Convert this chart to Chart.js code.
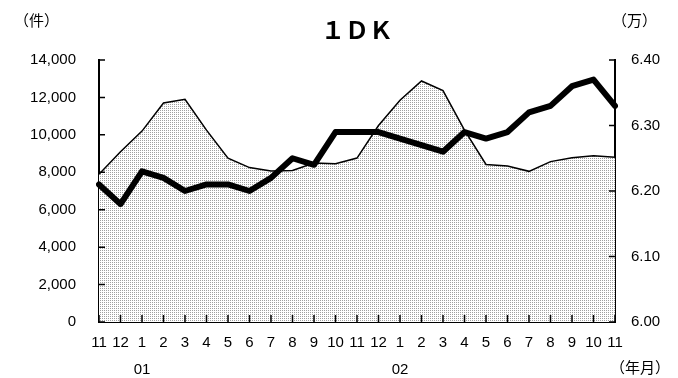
<!DOCTYPE html>
<html>
<head>
<meta charset="utf-8">
<script src="https://cdn.jsdelivr.net/npm/chart.js@4.4.1/dist/chart.umd.min.js"></script>
<style>
  html, body { margin: 0; padding: 0; background: #fff; }
  #wrap { width: 678px; height: 378px; }
</style>
</head>
<body>
<div id="wrap"><canvas id="chart" width="678" height="378"></canvas></div>
<script>
// 月ラベル（2000年11月～2002年11月）
const months = ["11","12","1","2","3","4","5","6","7","8","9","10","11","12","1","2","3","4","5","6","7","8","9","10","11"];
const years  = ["","","01","","","","","","","","","","","","02","","","","","","","","","",""];

// 件数（左軸）
const counts = [7900, 9100, 10200, 11700, 11900, 10250, 8750, 8250, 8070, 8100, 8500, 8460, 8760, 10500, 11850, 12880, 12360, 10250, 8420, 8340, 8050, 8570, 8780, 8890, 8800];
// 平均賃料（右軸、万円）
const rents  = [6.21, 6.18, 6.23, 6.22, 6.20, 6.21, 6.21, 6.20, 6.22, 6.25, 6.24, 6.29, 6.29, 6.29, 6.28, 6.27, 6.26, 6.29, 6.28, 6.29, 6.32, 6.33, 6.36, 6.37, 6.33];

const leftTicks  = [0, 2000, 4000, 6000, 8000, 10000, 12000, 14000];
const rightTicks = [6.00, 6.10, 6.20, 6.30, 6.40];

const FONT = "'Liberation Sans', Arial, sans-serif";

// 網掛けパターン
function makePattern() {
  const c = document.createElement("canvas");
  c.width = 2; c.height = 2;
  const g = c.getContext("2d");
  g.fillStyle = "#ffffff";
  g.fillRect(0, 0, 2, 2);
  g.fillStyle = "#a0a0a0";
  g.fillRect(0, 0, 1, 1);
  return document.getElementById("chart").getContext("2d").createPattern(c, "repeat");
}

// 内向きの目盛り線と注記
const decor = {
  id: "decor",
  afterDraw(chart) {
    const ctx = chart.ctx;
    const x = chart.scales.x, y = chart.scales.y, y1 = chart.scales.y1;
    ctx.save();
    ctx.strokeStyle = "#000";
    ctx.lineWidth = 1.5;
    ctx.beginPath();
    y.ticks.forEach((t, i) => {
      const py = y.getPixelForTick(i);
      ctx.moveTo(x.left, py); ctx.lineTo(x.left + 6, py);
    });
    y1.ticks.forEach((t, i) => {
      const py = y1.getPixelForTick(i);
      ctx.moveTo(x.right, py); ctx.lineTo(x.right - 6, py);
    });
    x.ticks.forEach((t, i) => {
      const px = x.getPixelForTick(i);
      ctx.moveTo(px, y.bottom); ctx.lineTo(px, y.bottom - 7);
    });
    ctx.stroke();

    ctx.fillStyle = "#000";
    ctx.textBaseline = "middle";
    ctx.font = "15px 'Noto Sans CJK JP', sans-serif";
    ctx.textAlign = "left";
    ctx.fillText("（件）", 14, 20);
    ctx.fillText("（万）", 612, 20);
    ctx.fillText("（年月）", 610, 367);
    ctx.font = "bold 24px 'Noto Sans CJK JP', sans-serif";
    ctx.textAlign = "center";
    ctx.fillText("１ＤＫ", (x.left + x.right) / 2, 30);
    ctx.restore();
  }
};

new Chart(document.getElementById("chart"), {
  type: "line",
  data: {
    labels: months.map((m, i) => [m, years[i]]),
    datasets: [
      {
        label: "平均賃料",
        data: rents,
        yAxisID: "y1",
        borderColor: "#000",
        borderWidth: 6,
        pointRadius: 0,
        tension: 0,
        fill: false,
        borderJoinStyle: "round",
        borderCapStyle: "round"
      },
      {
        label: "件数",
        data: counts,
        yAxisID: "y",
        borderColor: "#000",
        borderWidth: 1.5,
        backgroundColor: makePattern(),
        pointRadius: 0,
        tension: 0,
        fill: "origin"
      }
    ]
  },
  options: {
    responsive: false,
    animation: false,
    layout: { padding: { top: 60, left: 0, right: 0, bottom: 0 } },
    plugins: { legend: { display: false }, tooltip: { enabled: false }, title: { display: false } },
    scales: {
      x: {
        offset: false,
        grid: { display: false, drawTicks: false },
        border: { display: true, color: "#000", width: 2 },
        ticks: {
          color: "#000",
          font: { family: FONT, size: 15, lineHeight: 1.75 },
          padding: 8,
          maxRotation: 0,
          autoSkip: false
        },
        afterFit(s) { s.height = 56; }
      },
      y: {
        position: "left",
        min: 0, max: 14000,
        afterBuildTicks(s) { s.ticks = leftTicks.map(v => ({ value: v })); },
        grid: { display: false, drawTicks: false },
        border: { display: true, color: "#000", width: 2 },
        ticks: {
          color: "#000",
          font: { family: FONT, size: 15 },
          padding: 23,
          callback: v => v.toLocaleString("en-US")
        },
        afterFit(s) { s.width = 99; }
      },
      y1: {
        position: "right",
        min: 6.0, max: 6.4,
        afterBuildTicks(s) { s.ticks = rightTicks.map(v => ({ value: v })); },
        grid: { display: false, drawTicks: false },
        border: { display: true, color: "#000", width: 2 },
        ticks: {
          color: "#000",
          font: { family: FONT, size: 15 },
          padding: 16,
          callback: v => v.toFixed(2)
        },
        afterFit(s) { s.width = 63; }
      }
    }
  },
  plugins: [decor]
});
</script>
</body>
</html>
